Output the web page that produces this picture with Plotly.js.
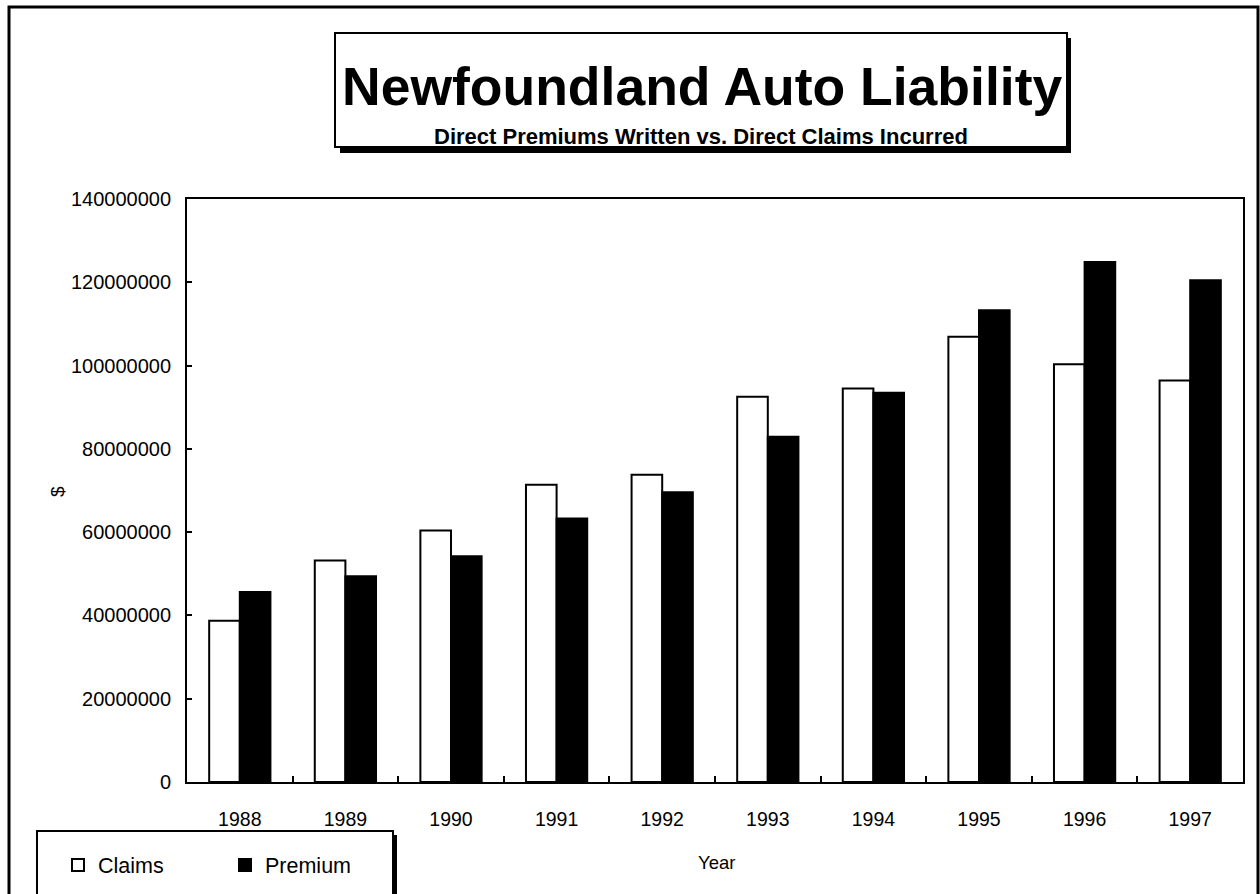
<!DOCTYPE html>
<html>
<head>
<meta charset="utf-8">
<script src="https://cdn.plot.ly/plotly-3.0.1.min.js"></script>
<style>
  html, body { margin: 0; padding: 0; background: #ffffff; }
  #chart { width: 1260px; height: 894px; }
</style>
</head>
<body>
<div id="chart"></div>
<script>
// ---- data ----
const years = ["1988", "1989", "1990", "1991", "1992", "1993", "1994", "1995", "1996", "1997"];
const claims = [38700000, 53200000, 60400000, 71400000, 73800000, 92500000, 94500000, 106900000, 100300000, 96400000];
const premium = [45600000, 49400000, 54200000, 63300000, 69600000, 82900000, 93500000, 113300000, 124900000, 120500000];
const seriesNames = ["Claims", "Premium"];
const chartTitle = "Newfoundland Auto Liability";
const chartSubtitle = "Direct Premiums Written vs. Direct Claims Incurred";
const xLabel = "Year";
const yLabel = "$";

// ---- layout geometry (pixels) ----
const W = 1260, H = 894;
const PL = 187, PR = 1243, PT = 199, PB = 782;
const px = x => (x - PL) / (PR - PL);
const py = y => (PB - y) / (PB - PT);
const FONT = "Liberation Sans, Arial, Helvetica, sans-serif";

const traces = [
  {
    type: "bar", name: seriesNames[0], x: years, y: claims,
    marker: { color: "#ffffff", line: { color: "#000000", width: 2 } },
    hoverinfo: "skip"
  },
  {
    type: "bar", name: seriesNames[1], x: years, y: premium,
    marker: { color: "#000000", line: { color: "#000000", width: 2 } },
    hoverinfo: "skip"
  }
];

function rect(x0, y0, x1, y1, fill, lw) {
  return {
    type: "rect", xref: "paper", yref: "paper", layer: "above",
    x0: px(x0), x1: px(x1), y0: py(y0), y1: py(y1),
    fillcolor: fill, line: { color: "#000000", width: lw }
  };
}

const layout = {
  width: W, height: H,
  margin: { l: PL, r: W - PR, t: PT, b: H - PB, pad: 0, autoexpand: false },
  paper_bgcolor: "#ffffff", plot_bgcolor: "#ffffff",
  font: { family: FONT, color: "#000000", size: 20 },
  barmode: "group", bargap: 0.42, bargroupgap: 0,
  showlegend: true,
  legend: {
    orientation: "h", xref: "paper", yref: "paper",
    x: px(58), y: py(865), xanchor: "left", yanchor: "middle",
    bgcolor: "rgba(0,0,0,0)", borderwidth: 0,
    font: { family: FONT, size: 21.5, color: "#000000" },
    entrywidth: 122, entrywidthmode: "pixels",
    itemclick: false, itemdoubleclick: false
  },
  xaxis: {
    type: "category", showgrid: false, zeroline: false,
    showline: true, linecolor: "#000000", linewidth: 2, mirror: true,
    ticks: "inside", ticklen: 6, tickwidth: 2, tickcolor: "#000000",
    tickson: "boundaries", ticklabelstandoff: 19,
    tickfont: { family: FONT, size: 19.5, color: "#000000" },
    fixedrange: true
  },
  yaxis: {
    range: [0, 140000000], dtick: 20000000, tick0: 0, tickformat: "d",
    showgrid: false, zeroline: false,
    showline: true, linecolor: "#000000", linewidth: 2, mirror: true,
    ticks: "inside", ticklen: 5, tickwidth: 2, tickcolor: "#000000",
    ticklabelstandoff: 10,
    tickfont: { family: FONT, size: 20, color: "#000000" },
    fixedrange: true
  },
  shapes: [
    // outer frame
    rect(9, 7, 1258, 905, "rgba(0,0,0,0)", 3),
    // title box shadow + box
    rect(340, 38, 1071, 153, "#000000", 0),
    rect(335, 33, 1067, 147, "#ffffff", 2),
    // legend box shadow + box
    rect(41, 835, 397, 910, "#000000", 0),
    rect(37, 831, 393, 910, "#ffffff", 2)
  ],
  annotations: [
    {
      text: "<b>" + chartTitle + "</b>", xref: "paper", yref: "paper",
      x: px(702), y: py(86), xanchor: "center", yanchor: "middle", showarrow: false,
      font: { family: FONT, size: 53.5, color: "#000000" }
    },
    {
      text: "<b>" + chartSubtitle + "</b>", xref: "paper", yref: "paper",
      x: px(701), y: py(137), xanchor: "center", yanchor: "middle", showarrow: false,
      font: { family: FONT, size: 22, color: "#000000" }
    },
    {
      text: xLabel, xref: "paper", yref: "paper",
      x: px(716), y: py(862), xanchor: "center", yanchor: "middle", showarrow: false,
      font: { family: FONT, size: 18.5, color: "#000000" }
    },
    {
      text: yLabel, xref: "paper", yref: "paper", textangle: -90,
      x: px(57), y: py(492), xanchor: "center", yanchor: "middle", showarrow: false,
      font: { family: FONT, size: 19, color: "#000000" }
    }
  ]
};

Plotly.newPlot("chart", traces, layout, { displayModeBar: false, staticPlot: true });
</script>
</body>
</html>
